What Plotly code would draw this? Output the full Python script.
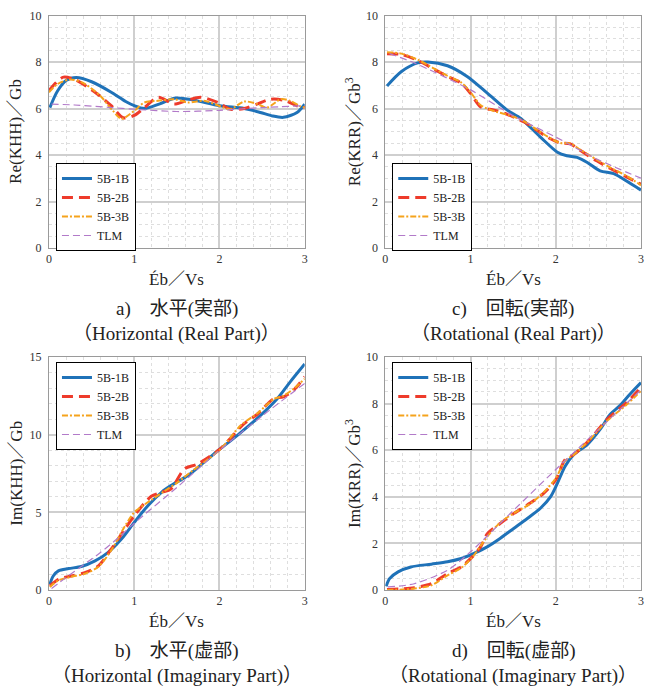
import plotly.graph_objects as go

# ---- data: dimensionless frequency Éb/Vs and impedance components ----
series_names = ["5B-1B", "5B-2B", "5B-3B", "TLM"]

# a) Re(KHH)/Gb
re_khh_1b_x = [0.01, 0.1, 0.2, 0.32, 0.5, 0.73, 0.9, 1.0, 1.12, 1.3, 1.49, 1.7, 2.0, 2.29, 2.48, 2.62, 2.75, 2.91, 3.0]
re_khh_1b_y = [6.04, 6.75, 7.2, 7.33, 7.15, 6.7, 6.3, 6.12, 6.0, 6.2, 6.45, 6.36, 6.12, 6.0, 5.83, 5.68, 5.62, 5.83, 6.19]
re_khh_2b_x = [0.0, 0.08, 0.17, 0.3, 0.54, 0.73, 0.87, 1.0, 1.12, 1.28, 1.47, 1.62, 1.78, 1.98, 2.13, 2.29, 2.45, 2.6, 2.75, 2.91, 3.0]
re_khh_2b_y = [6.77, 7.1, 7.35, 7.25, 6.7, 6.12, 5.6, 5.7, 6.04, 6.48, 6.19, 6.35, 6.48, 6.26, 5.97, 6.0, 6.2, 6.4, 6.36, 6.12, 6.04]
re_khh_3b_x = [0.0, 0.1, 0.25, 0.4, 0.6, 0.75, 0.85, 1.0, 1.12, 1.28, 1.47, 1.63, 1.82, 2.05, 2.13, 2.29, 2.44, 2.56, 2.72, 2.83, 2.95, 3.0]
re_khh_3b_y = [6.7, 7.05, 7.25, 7.1, 6.55, 5.9, 5.56, 5.9, 6.26, 6.33, 6.4, 6.26, 6.33, 6.04, 5.97, 6.3, 6.2, 6.04, 6.4, 6.33, 6.09, 6.05]
re_khh_tlm_x = [0.03, 0.3, 0.7, 1.0, 1.5, 2.0, 2.5, 3.0]
re_khh_tlm_y = [6.19, 6.15, 6.05, 5.97, 5.87, 5.92, 6.04, 6.12]

# c) Re(KRR)/Gb^3
re_krr_1b_x = [0.02, 0.19, 0.38, 0.5, 0.73, 0.96, 1.2, 1.43, 1.59, 1.82, 2.02, 2.13, 2.25, 2.37, 2.52, 2.68, 2.83, 3.0]
re_krr_1b_y = [6.97, 7.59, 7.96, 8.0, 7.84, 7.38, 6.65, 5.93, 5.57, 4.77, 4.12, 3.97, 3.9, 3.68, 3.32, 3.2, 2.88, 2.49]
re_krr_2b_x = [0.02, 0.19, 0.38, 0.58, 0.73, 0.89, 1.0, 1.12, 1.28, 1.43, 1.63, 1.78, 1.9, 2.05, 2.17, 2.29, 2.48, 2.64, 2.83, 3.0]
re_krr_2b_y = [8.36, 8.32, 8.07, 7.67, 7.38, 7.09, 6.65, 6.07, 5.93, 5.75, 5.42, 5.06, 4.77, 4.52, 4.48, 4.19, 3.75, 3.42, 3.06, 2.74]
re_krr_3b_x = [0.02, 0.19, 0.38, 0.58, 0.73, 0.89, 1.0, 1.12, 1.3, 1.45, 1.63, 1.78, 1.9, 2.05, 2.17, 2.29, 2.48, 2.64, 2.83, 3.0]
re_krr_3b_y = [8.42, 8.36, 8.1, 7.7, 7.4, 7.12, 6.7, 6.14, 5.86, 5.72, 5.45, 5.08, 4.8, 4.52, 4.5, 4.22, 3.8, 3.46, 3.1, 2.7]
re_krr_tlm_x = [0.05, 0.34, 1.0, 1.51, 2.0, 2.48, 3.0]
re_krr_tlm_y = [8.36, 7.96, 6.8, 5.67, 4.77, 3.83, 3.0]

# b) Im(KHH)/Gb
im_khh_1b_x = [0.01, 0.05, 0.11, 0.23, 0.38, 0.54, 0.69, 0.85, 1.0, 1.16, 1.32, 1.43, 1.63, 1.82, 2.0, 2.21, 2.44, 2.68, 2.83, 3.0]
im_khh_1b_y = [0.37, 0.9, 1.23, 1.38, 1.51, 1.87, 2.41, 3.28, 4.35, 5.43, 6.29, 6.72, 7.37, 8.23, 9.05, 9.96, 11.03, 12.33, 13.4, 14.55]
im_khh_2b_x = [0.01, 0.11, 0.26, 0.42, 0.58, 0.73, 0.89, 1.0, 1.2, 1.32, 1.43, 1.59, 1.74, 2.0, 2.29, 2.44, 2.64, 2.75, 2.87, 3.0]
im_khh_2b_y = [0.26, 0.69, 0.9, 1.12, 1.55, 2.63, 3.92, 4.78, 6.03, 6.29, 6.5, 7.8, 8.1, 9.05, 10.71, 11.3, 12.33, 12.44, 12.87, 13.73]
im_khh_3b_x = [0.01, 0.11, 0.26, 0.42, 0.58, 0.73, 0.89, 1.0, 1.2, 1.35, 1.5, 1.7, 2.0, 2.25, 2.45, 2.64, 2.75, 2.87, 3.0]
im_khh_3b_y = [0.2, 0.62, 0.85, 1.05, 1.5, 2.55, 4.1, 5.0, 5.8, 6.35, 6.9, 7.75, 9.0, 10.6, 11.4, 12.3, 12.5, 12.95, 13.6]
im_khh_tlm_x = [0.03, 0.2, 0.4, 0.6, 0.8, 1.0, 1.5, 2.0, 2.5, 3.0]
im_khh_tlm_y = [0.1, 0.8, 1.6, 2.4, 3.3, 4.3, 6.6, 9.0, 11.2, 13.3]

# d) Im(KRR)/Gb^3
im_krr_1b_x = [0.01, 0.05, 0.15, 0.3, 0.54, 0.73, 0.89, 1.04, 1.2, 1.35, 1.51, 1.67, 1.82, 1.94, 2.02, 2.11, 2.21, 2.37, 2.52, 2.64, 2.75, 2.87, 3.0]
im_krr_1b_y = [0.16, 0.49, 0.78, 0.99, 1.11, 1.21, 1.35, 1.57, 1.86, 2.22, 2.65, 3.08, 3.51, 4.01, 4.59, 5.31, 5.81, 6.24, 6.89, 7.54, 7.9, 8.4, 8.9]
im_krr_2b_x = [0.02, 0.2, 0.34, 0.54, 0.73, 0.89, 1.02, 1.12, 1.2, 1.35, 1.51, 1.7, 1.86, 2.0, 2.11, 2.21, 2.4, 2.6, 2.83, 3.0]
im_krr_2b_y = [0.02, 0.05, 0.1, 0.27, 0.7, 0.99, 1.42, 1.86, 2.43, 2.86, 3.29, 3.73, 4.16, 4.73, 5.6, 5.81, 6.46, 7.32, 8.04, 8.69]
im_krr_3b_x = [0.02, 0.2, 0.34, 0.54, 0.73, 0.89, 1.02, 1.12, 1.22, 1.35, 1.51, 1.7, 1.86, 2.0, 2.11, 2.21, 2.4, 2.6, 2.83, 3.0]
im_krr_3b_y = [0.0, 0.02, 0.06, 0.2, 0.63, 0.95, 1.4, 1.9, 2.4, 2.9, 3.3, 3.7, 4.2, 4.8, 5.55, 5.8, 6.45, 7.25, 7.95, 8.55]
im_krr_tlm_x = [0.03, 0.34, 0.73, 1.0, 1.51, 2.0, 2.48, 3.0]
im_krr_tlm_y = [0.13, 0.27, 0.85, 1.64, 3.44, 5.17, 6.82, 8.59]

# axis labels and captions
y_titles = ["Re(KHH)／Gb", "Re(KRR)／Gb<sup>3</sup>", "Im(KHH)／Gb", "Im(KRR)／Gb<sup>3</sup>"]
x_title = "Éb／Vs"
captions_jp = ["a)　水平(実部)", "c)　回転(実部)", "b)　水平(虚部)", "d)　回転(虚部)"]
captions_en = ["（Horizontal (Real Part)）", "（Rotational (Real Part)）",
               "（Horizontal (Imaginary Part)）", "（Rotational (Imaginary Part)）"]

# ---- styling ----
SERIF = "'Liberation Serif', 'Noto Sans CJK JP', serif"
line_styles = [
    dict(color="#1f72b8", width=3.0, dash="solid"),
    dict(color="#ee3b2b", width=3.0, dash="11px,6px"),
    dict(color="#f5a31c", width=2.0, dash="6px,2px,2px,2px"),
    dict(color="#b27ac9", width=1.2, dash="7px,4px"),
]

W, H = 648, 689
ML, MR, MT, MB = 49, 4, 15, 99
PW, PH = W - ML - MR, H - MT - MB


def px_x(p):
    return (p - ML) / PW


def px_y(p):
    return (H - MB - p) / PH


panels = [
    dict(data=[(re_khh_1b_x, re_khh_1b_y), (re_khh_2b_x, re_khh_2b_y), (re_khh_3b_x, re_khh_3b_y), (re_khh_tlm_x, re_khh_tlm_y)],
         left=49, top=15.5, bottom=248, yr=[0, 10], ymaj=2, ymin=0.5),
    dict(data=[(re_krr_1b_x, re_krr_1b_y), (re_krr_2b_x, re_krr_2b_y), (re_krr_3b_x, re_krr_3b_y), (re_krr_tlm_x, re_krr_tlm_y)],
         left=387, top=15.5, bottom=248, yr=[0, 10], ymaj=2, ymin=0.5),
    dict(data=[(im_khh_1b_x, im_khh_1b_y), (im_khh_2b_x, im_khh_2b_y), (im_khh_3b_x, im_khh_3b_y), (im_khh_tlm_x, im_khh_tlm_y)],
         left=49, top=357, bottom=590, yr=[0, 15], ymaj=5, ymin=1),
    dict(data=[(im_krr_1b_x, im_krr_1b_y), (im_krr_2b_x, im_krr_2b_y), (im_krr_3b_x, im_krr_3b_y), (im_krr_tlm_x, im_krr_tlm_y)],
         left=387, top=357, bottom=590, yr=[0, 10], ymaj=2, ymin=0.5),
]
plot_w = 257

fig = go.Figure()
layout = dict(
    width=W, height=H,
    margin=dict(l=ML, r=MR, t=MT, b=MB),
    paper_bgcolor="white", plot_bgcolor="white",
    font=dict(family=SERIF, color="#222222"),
    showlegend=True,
)
annotations = []

for i, p in enumerate(panels):
    sfx = "" if i == 0 else str(i + 1)
    legend_id = "legend" if i == 0 else f"legend{i + 1}"
    for k, (xs, ys) in enumerate(p["data"]):
        fig.add_trace(go.Scatter(
            x=xs, y=ys, mode="lines", name=series_names[k],
            line=dict(shape="spline", smoothing=0.8, **line_styles[k]),
            xaxis="x" + sfx, yaxis="y" + sfx, legend=legend_id,
        ))
    xd = [px_x(p["left"]), px_x(p["left"] + plot_w)]
    yd = [px_y(p["bottom"]), px_y(p["top"])]
    axis_common = dict(
        showline=True, linecolor="#9a9a9a", linewidth=1, mirror=True,
        gridcolor="#cfcfcf", gridwidth=1.6, zeroline=False,
        ticks="", tickfont=dict(family=SERIF, size=12, color="#333333"),
        minor=dict(showgrid=True, gridcolor="#dedede", griddash="dot", gridwidth=1),
    )
    layout["xaxis" + sfx] = dict(
        domain=xd, range=[0, 3], dtick=1, tick0=0,
        anchor="y" + sfx, **axis_common,
    )
    layout["xaxis" + sfx]["minor"] = dict(axis_common["minor"], dtick=0.2)
    layout["yaxis" + sfx] = dict(
        domain=yd, range=p["yr"], dtick=p["ymaj"], tick0=0,
        anchor="x" + sfx, ticklabelstandoff=4, **axis_common,
    )
    layout["yaxis" + sfx]["minor"] = dict(axis_common["minor"], dtick=p["ymin"])

    layout[legend_id] = dict(
        x=px_x(p["left"] + 7), y=px_y(p["top"] + (147.5 if i < 2 else 5)),
        xanchor="left", yanchor="top",
        bgcolor="white", bordercolor="black", borderwidth=1,
        font=dict(family=SERIF, size=12, color="#222222"),
        itemwidth=30, tracegroupgap=0,
    )

    cx = p["left"] + plot_w / 2
    # y-axis title
    annotations.append(dict(
        text=y_titles[i], x=px_x(p["left"] - 33), y=px_y((p["top"] + p["bottom"]) / 2),
        xref="paper", yref="paper", textangle=-90, showarrow=False,
        xanchor="center", yanchor="middle",
        font=dict(family=SERIF, size=17, color="#222222"),
    ))
    # x-axis title
    annotations.append(dict(
        text=x_title, x=px_x(cx), y=px_y(p["bottom"] + 31),
        xref="paper", yref="paper", showarrow=False,
        xanchor="center", yanchor="middle",
        font=dict(family=SERIF, size=17, color="#222222"),
    ))
    # caption lines
    annotations.append(dict(
        text=captions_jp[i], x=px_x(cx), y=px_y(p["bottom"] + 61),
        xref="paper", yref="paper", showarrow=False,
        xanchor="center", yanchor="middle",
        font=dict(family=SERIF, size=19, color="#222222"),
    ))
    annotations.append(dict(
        text=captions_en[i], x=px_x(cx), y=px_y(p["bottom"] + 86),
        xref="paper", yref="paper", showarrow=False,
        xanchor="center", yanchor="middle",
        font=dict(family=SERIF, size=19, color="#222222"),
    ))

layout["annotations"] = annotations
fig.update_layout(**layout)
fig.write_html("out.html")
